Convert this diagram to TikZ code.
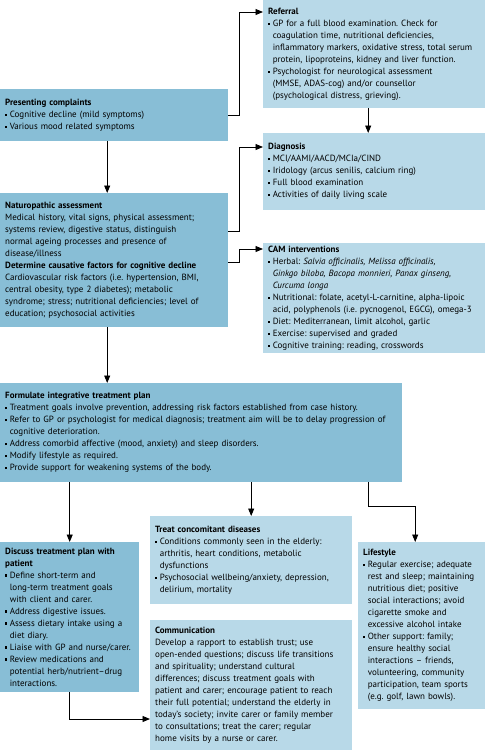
\documentclass[tikz,border=0pt]{standalone}
\usepackage{fontspec}
\setmainfont{PT Sans}
\usepackage{xcolor}
\usepackage{tikz}
\usetikzlibrary{arrows.meta,positioning}
\frenchspacing
\definecolor{boxdark}{HTML}{88BED6}
\definecolor{boxlight}{HTML}{B8D9E8}
\newcommand{\bul}{\makebox[4.6pt][l]{\raisebox{1.8pt}{\rule{2.1pt}{2.1pt}}}}
\newcommand{\ind}{\hspace*{4.6pt}}
\tikzset{flow/.style={-{Triangle[length=7.5pt,width=6pt]},draw=black,line width=.9pt},box/.style={anchor=north west,inner xsep=5pt,inner ysep=0pt,align=left,font=\fontsize{9}{12}\selectfont\frenchspacing},darkbox/.style={box,fill=boxdark},lightbox/.style={box,fill=boxlight}}
\begin{document}
\begin{tikzpicture}[x=1pt,y=-1pt]
 \useasboundingbox (0,0) rectangle (485,750);
 \node[lightbox,text width=212pt,minimum height=108pt] (ref) at (263,0) {\textbf{Referral}\\\bul GP for a full blood examination. Check for\\\ind coagulation time, nutritional deficiencies,\\\ind inflammatory markers, oxidative stress, total serum\\\ind protein, lipoproteins, kidney and liver function.\\\bul Psychologist for neurological assessment\\\ind (MMSE, ADAS-cog) and/or counsellor\\\ind (psychological distress, grieving).};
 \node[darkbox,text width=218pt,minimum height=52pt] (pres) at (0,89) {\textbf{Presenting complaints}\\\bul Cognitive decline (mild symptoms)\\\bul Various mood related symptoms};
 \node[lightbox,text width=212pt,minimum height=77pt] (diag) at (263,133) {\textbf{Diagnosis}\\\bul MCI/AAMI/AACD/MCIa/CIND\\\bul Iridology (arcus senilis, calcium ring)\\\bul Full blood examination\\\bul Activities of daily living scale};
 \node[darkbox,text width=218pt,minimum height=134pt] (nat) at (0,193) {\textbf{Naturopathic assessment}\\Medical history, vital signs, physical assessment;\\systems review, digestive status, distinguish\\normal ageing processes and presence of\\disease/illness\\\textbf{Determine causative factors for cognitive decline}\\Cardiovascular risk factors (i.e. hypertension, BMI,\\central obesity, type 2 diabetes); metabolic\\syndrome; stress; nutritional deficiencies; level of\\education; psychosocial activities};
 \node[lightbox,text width=212pt,minimum height=110pt] (cam) at (263,243) {\textbf{CAM interventions}\\\bul Herbal: \textit{Salvia officinalis, Melissa officinalis,}\\\ind\textit{Ginkgo biloba, Bacopa monnieri, Panax ginseng,}\\\ind\textit{Curcuma longa}\\\bul Nutritional: folate, acetyl-L-carnitine, alpha-lipoic\\\ind acid, polyphenols (i.e. pycnogenol, EGCG), omega-3\\\bul Diet: Mediterranean, limit alcohol, garlic\\\bul Exercise: supervised and graded\\\bul Cognitive training: reading, crosswords};
 \node[darkbox,text width=392pt,minimum height=99pt] (form) at (0,383) {\textbf{Formulate integrative treatment plan}\\\bul Treatment goals involve prevention, addressing risk factors established from case history.\\\bul Refer to GP or psychologist for medical diagnosis; treatment aim will be to delay progression of\\\ind cognitive deterioration.\\\bul Address comorbid affective (mood, anxiety) and sleep disorders.\\\bul Modify lifestyle as required.\\\bul Provide support for weakening systems of the body.};
 \node[darkbox,text width=129pt,minimum height=150pt] (disc) at (0,542) {\textbf{Discuss treatment plan with}\\\textbf{patient}\\\bul Define short-term and\\\ind long-term treatment goals\\\ind with client and carer.\\\bul Address digestive issues.\\\bul Assess dietary intake using a\\\ind diet diary.\\\bul Liaise with GP and nurse/carer.\\\bul Review medications and\\\ind potential herb/nutrient--drug\\\ind interactions.};
 \node[lightbox,text width=192pt,minimum height=88pt] (treat) at (150,516) {\textbf{Treat concomitant diseases}\\\bul Conditions commonly seen in the elderly:\\\ind arthritis, heart conditions, metabolic\\\ind dysfunctions\\\bul Psychosocial wellbeing/anxiety, depression,\\\ind delirium, mortality};
 \node[lightbox,text width=192pt,minimum height=130pt] (comm) at (150,620) {\textbf{Communication}\\Develop a rapport to establish trust; use\\open-ended questions; discuss life transitions\\and spirituality; understand cultural\\differences; discuss treatment goals with\\patient and carer; encourage patient to reach\\their full potential; understand the elderly in\\today’s society; invite carer or family member\\to consultations; treat the carer; regular\\home visits by a nurse or carer.};
 \node[lightbox,text width=117pt,minimum height=167pt] (life) at (358,542) {\textbf{Lifestyle}\\\bul Regular exercise; adequate\\\ind rest and sleep; maintaining\\\ind nutritious diet; positive\\\ind social interactions; avoid\\\ind cigarette smoke and\\\ind excessive alcohol intake\\\bul Other support: family;\\\ind ensure healthy social\\\ind interactions -- friends,\\\ind volunteering, community\\\ind participation, team sports\\\ind (e.g. golf, lawn bowls).};
 \draw[flow] (pres.east) -- ++(11,0) |- ([yshift=-12pt]ref.north west);
 \draw[flow] ([xshift=-6pt]ref.south) -- ([xshift=-6pt]diag.north);
 \draw[flow] ([xshift=-7pt]pres.south) -- ([xshift=-7pt]nat.north);
 \draw[flow] ([yshift=-38pt]nat.north east) -- ++(11,0) |- ([yshift=-14pt]diag.north west);
 \draw[flow] ([yshift=-69pt]nat.north east) -- ++(11,0) |- ([yshift=-6pt]cam.north west);
 \draw[flow] ([xshift=-7pt]nat.south) -- ([xshift=-7pt]nat.south |- form.north);
 \draw[flow] (form.south -| disc.north) -- (disc.north);
 \draw[flow] (form.south -| treat.north) -- (treat.north);
 \draw[flow] ([xshift=-34pt]form.south east) -- ++(0,24) -| ([xshift=-6.5pt]life.north);
 \draw[flow] (disc.south) |- ([yshift=-99pt]comm.north west);
\end{tikzpicture}
\end{document}
